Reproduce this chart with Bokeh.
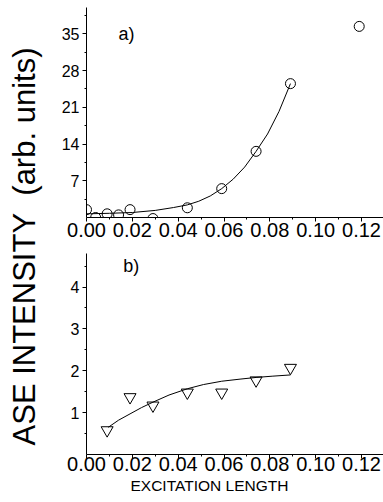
from math import pi
from bokeh.plotting import figure
from bokeh.models import Range1d, FixedTicker, Label, NumeralTickFormatter, Title
from bokeh.layouts import row, column
from bokeh.embed import file_html
from bokeh.resources import INLINE

# ---- data ----
a_x = [0.0, 0.004, 0.009, 0.014, 0.019, 0.029, 0.044, 0.059, 0.074, 0.089, 0.119]
a_y = [1.5, 0.0, 0.7, 0.5, 1.5, -0.2, 1.85, 5.5, 12.6, 25.5, 36.4]
fit_a_x = [0.000, 0.010, 0.020, 0.030, 0.038, 0.044, 0.049, 0.054, 0.059,
           0.064, 0.069, 0.074, 0.079, 0.084, 0.089]
fit_a_y = [0.7, 0.8, 0.95, 1.35, 1.9, 2.4, 3.1, 4.1, 5.5,
           7.3, 9.6, 12.6, 15.9, 20.2, 25.5]

b_x = [0.009, 0.019, 0.029, 0.044, 0.059, 0.074, 0.089]
b_y = [0.58, 1.37, 1.17, 1.48, 1.48, 1.77, 2.07]
fit_b_x = [0.0095, 0.014, 0.019, 0.024, 0.029, 0.036, 0.044, 0.051, 0.059,
           0.067, 0.074, 0.081, 0.089]
fit_b_y = [0.65, 0.82, 0.97, 1.12, 1.25, 1.42, 1.57, 1.67, 1.75,
           1.80, 1.84, 1.87, 1.90]

x_ticks = [0.00, 0.02, 0.04, 0.06, 0.08, 0.10, 0.12]
x_minor = [0.01, 0.03, 0.05, 0.07, 0.09, 0.11]
ya_ticks = [7, 14, 21, 28, 35]
ya_minor = [3.5, 10.5, 17.5, 24.5, 31.5, 38.5]
yb_ticks = [1, 2, 3, 4]
yb_minor = [0.5, 1.5, 2.5, 3.5, 4.5]

y_title = "ASE INTENSITY\u00a0\u00a0(arb. units)"
x_title = "EXCITATION LENGTH"
FONT = "Liberation Sans"


def style(p, yt, ym, x_standoff):
    p.xgrid.visible = False
    p.ygrid.visible = False
    p.outline_line_color = None
    for ax in (p.xaxis[0], p.yaxis[0]):
        ax.axis_line_color = "black"
        ax.axis_line_width = 1
        ax.major_tick_line_color = "black"
        ax.minor_tick_line_color = "black"
        ax.major_tick_in = 0
        ax.major_tick_out = 4
        ax.minor_tick_in = 0
        ax.minor_tick_out = 2
        ax.major_label_text_font = FONT
        ax.major_label_text_color = "black"
    p.xaxis.ticker = FixedTicker(ticks=x_ticks, minor_ticks=x_minor)
    p.xaxis.formatter = NumeralTickFormatter(format="0.00")
    p.xaxis.major_label_text_font_size = "20px"
    p.xaxis.major_label_standoff = x_standoff
    p.yaxis.ticker = FixedTicker(ticks=yt, minor_ticks=ym)
    p.yaxis.major_label_text_font_size = "16px"
    p.yaxis.major_label_standoff = 3


# label column
lab = figure(width=45, height=502, x_range=Range1d(0, 45), y_range=Range1d(0, 502),
             x_axis_type=None, y_axis_type=None, toolbar_location=None,
             output_backend="svg", min_border=0)
lab.outline_line_color = None
lab.add_layout(Label(x=24, y=502 - 246, text=y_title, angle=pi / 2,
                     text_align="center", text_baseline="middle",
                     text_font=FONT, text_font_size="31px", text_color="black"))

# panel a
pa = figure(width=338, height=245, x_range=Range1d(0, 0.1296), y_range=Range1d(0, 40),
            toolbar_location=None, output_backend="svg",
            min_border_left=41, min_border_right=0, min_border_top=7, min_border_bottom=28)
style(pa, ya_ticks, ya_minor, 1)
pa.line(fit_a_x, fit_a_y, line_color="black", line_width=1)
pa.scatter(a_x, a_y, marker="circle", size=10, fill_color=None,
           line_color="black", line_width=1)
pa.add_layout(Label(x=0.014, y=35, text="a)", text_align="left", text_baseline="middle",
                    text_font=FONT, text_font_size="18px", text_color="black"))

# panel b
pb = figure(width=338, height=257, x_range=Range1d(0, 0.1296), y_range=Range1d(0, 4.8),
            toolbar_location=None, output_backend="svg",
            min_border_left=41, min_border_right=0, min_border_top=8, min_border_bottom=48)
style(pb, yb_ticks, yb_minor, -2)
pb.line(fit_b_x, fit_b_y, line_color="black", line_width=1)
pb.scatter(b_x, b_y, marker="inverted_triangle", size=12, fill_color=None,
           line_color="black", line_width=1)
pb.add_layout(Label(x=0.016, y=4.49, text="b)", text_align="left", text_baseline="middle",
                    text_font=FONT, text_font_size="18px", text_color="black"))
pb.add_layout(Title(text=x_title, align="left", offset=44, standoff=2,
                    text_font=FONT, text_font_size="15.5px", text_font_style="normal",
                    text_color="black"), "below")

layout = row(lab, column(pa, pb, spacing=0), spacing=0)
open("out.html", "w").write(file_html(layout, INLINE))
